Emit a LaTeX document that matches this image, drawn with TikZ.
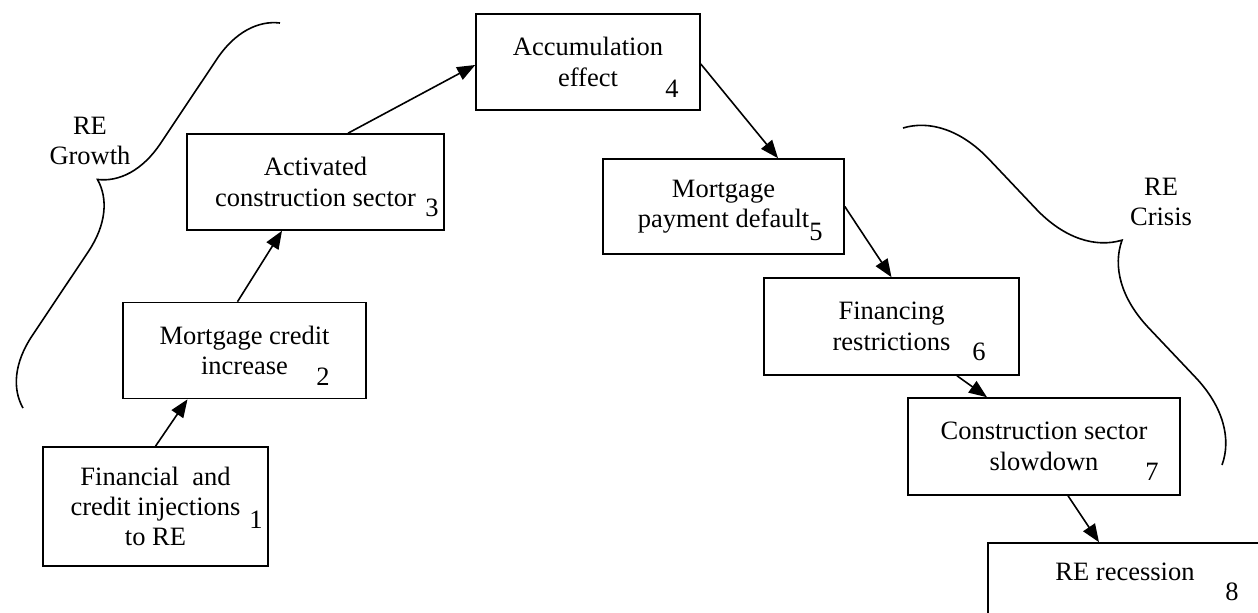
\documentclass[tikz,border=0pt]{standalone}
\usepackage{fontspec}
\setmainfont{Liberation Serif}
\usetikzlibrary{arrows.meta,calc,decorations.pathreplacing}

\begin{document}
\begin{tikzpicture}[x=0.5pt,y=-0.5pt,
  every node/.style={font=\fontsize{13.25pt}{15.2pt}\selectfont},
  stage/.style={draw, line width=0.8pt, align=center, inner sep=0pt},
  num/.style={anchor=base},
  arr/.style={line width=0.8pt, -{Triangle[length=9pt,width=7pt]}},
  curly/.style={line width=0.8pt, decorate, decoration={brace, amplitude=#1}}]

\useasboundingbox (0,0) rectangle (1258,612);

\node[stage, minimum width=112.5pt, minimum height=59.5pt] (b1) at (155.5,506.5) {Financial~ and\\credit injections\\to RE};
\node[stage, minimum width=121.5pt, minimum height=48pt] (b2) at (244.5,350.5) {Mortgage credit\\increase};
\node[stage, minimum width=128.5pt, minimum height=48pt] (b3) at (315.5,182) {Activated\\construction sector};
\node[stage, minimum width=112pt, minimum height=48pt] (b4) at (588,62) {Accumulation\\effect};
\node[stage, minimum width=120.5pt, minimum height=47.5pt] (b5) at (723.5,206.5) {Mortgage\\payment default};
\node[stage, minimum width=127.5pt, minimum height=48.5pt] (b6) at (891.5,326.5) {Financing\\restrictions};
\node[stage, minimum width=136pt, minimum height=48.5pt] (b7) at (1044,446.5) {Construction sector\\slowdown};
\node[stage, minimum width=137pt, minimum height=48pt, text depth=19pt] (b8) at (1125,591) {RE recession};

\node[num] (n1) at (256,528) {1};
\node[num] (n2) at (323,385) {2};
\node[num] (n3) at (432,216) {3};
\node[num] (n4) at (672,97) {4};
\node[num] (n5) at (816,240) {5};
\node[num] (n6) at (979,360) {6};
\node[num] (n7) at (1152,480) {7};
\node[num] (n8) at (1232,600) {8};

\draw[arr] (b1.north) -- ($(b2.south)+(-57,0)$);
\draw[arr] ($(b2.north)+(-7,0)$) -- ($(b3.south)+(-33.5,0)$);
\draw[arr] ($(b3.north)+(32.5,0)$) -- ($(b4.west)+(0,3)$);
\draw[arr] ($(b4.east)+(0,2)$) -- ($(b5.north)+(54.5,0)$);
\draw[arr] (b5.east) -- (b6.north);
\draw[arr] ($(b6.south)+(65.5,0)$) -- ($(b7.north)+(-57,0)$);
\draw[arr] ($(b7.south)+(24,0)$) -- ($(b8.north)+(-26,0)$);

% braces
\draw[curly=32.5pt] (23,408) -- (280,23);
\node[align=center] (growth) at (90,141) {RE\\Growth};

\draw[curly=41pt] (903,128) -- (1222,465);
\node[align=center] (crisis) at (1161,202) {RE\\Crisis};

\end{tikzpicture}
\end{document}
